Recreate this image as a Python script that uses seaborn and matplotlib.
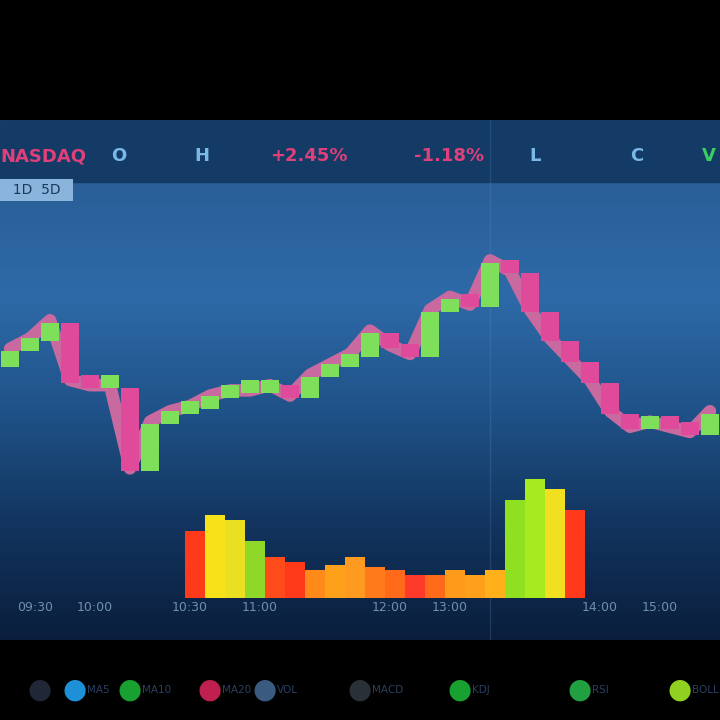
import numpy as np
import pandas as pd
import matplotlib
matplotlib.use("Agg")
import matplotlib.pyplot as plt
import seaborn as sns
from matplotlib.colors import LinearSegmentedColormap

# price closes, one per candle
closes = [56, 58, 61.5, 50, 49, 49, 33, 42, 44, 45, 47, 48, 48, 49, 47, 51, 53, 55,
          59.5, 56.7, 55, 63.5, 66, 64.5, 73, 71, 63.5, 58, 54, 50, 44, 41, 42, 41, 40, 44]
opens = [53] + closes[:-1]

# volume bars (candles 9..28)
vol_idx = list(range(9, 29))
volumes = [13, 16, 15, 11, 8, 7, 5.5, 6.4, 8, 6, 5.5, 4.5, 4.5, 5.5, 4.5, 5.5, 19, 23, 21, 17]
vol_colors = ["#ff3a1a", "#f7e21a", "#e8e020", "#8fd82a", "#ff4a1a", "#ff3a1a", "#ff8a1a",
              "#ffa01a", "#ff9a20", "#ff7a1a", "#ff6a1a", "#ff3a2a", "#ff6a1a", "#ff9a1a",
              "#ffa01a", "#ffb01a", "#8ee020", "#a6ea20", "#f0e020", "#ff3a1a"]

tick_pos = [1.25, 4.25, 9, 12.5, 19, 22, 29.5, 32.5]
tick_labels = ["09:30", "10:00", "10:30", "11:00", "12:00", "13:00", "14:00", "15:00"]

header_text = ["NASDAQ", "O", "H", "+2.45%", "-1.18%", "L", "C", "V"]
header_x = [0.0, 0.155, 0.27, 0.375, 0.575, 0.735, 0.875, 0.975]
header_col = ["#e0407a", "#7ab8e8", "#7ab8e8", "#e0407a", "#e0407a", "#7ab8e8", "#7ab8e8", "#3ad060"]

legend_names = ["", "MA5", "MA10", "MA20", "VOL", "MACD", "KDJ", "RSI", "BOLL"]
legend_cols = ["#202838", "#1e90d8", "#18a030", "#c02050", "#3a5a80", "#2a3038",
               "#18a030", "#20a040", "#90d020"]
legend_px = [40, 75, 130, 210, 265, 360, 460, 580, 680]

sns.set_theme(style="dark")
plt.rcParams["font.family"] = ["DejaVu Sans"]

fig = plt.figure(figsize=(7.2, 7.2), dpi=100, facecolor="black")
ax = fig.add_axes([0, 80 / 720, 1, 520 / 720])
ax.set_xlim(-0.5, len(closes) - 0.5)
ax.set_ylim(0, 100)

# gradient background
bg = LinearSegmentedColormap.from_list(
    "bg", ["#0a1e3c", "#12345e", "#1f5288", "#2e6aa8", "#2a5f98"])
grad = np.linspace(0, 1, 256).reshape(-1, 1)
ax.imshow(grad, extent=[-0.5, len(closes) - 0.5, 0, 88], origin="lower",
          aspect="auto", cmap=bg, zorder=0)
ax.axhspan(88, 100, color="#143a66", zorder=0.5)
ax.axvline(24, color="#6a9ad0", alpha=0.2, lw=1, zorder=1)

# price line and candles
df = pd.DataFrame({"i": range(len(closes)), "close": closes})
sns.lineplot(data=df, x="i", y="close", ax=ax, color="#c86aa0", lw=9, zorder=2)
for i, (o, c) in enumerate(zip(opens, closes)):
    col = "#7ee05a" if c >= o else "#e04a9a"
    lo, hi = min(o, c), max(o, c)
    ax.bar(i, max(hi - lo, 2.5), bottom=lo - 0.5, width=0.9, color=col,
           linewidth=0, zorder=3)

# volume
vdf = pd.DataFrame({"i": vol_idx, "v": volumes})
ax.bar(vdf["i"] + 0.25, vdf["v"], bottom=8, width=1.0, color=vol_colors,
       linewidth=0, zorder=3)

# header
for t, x, c in zip(header_text, header_x, header_col):
    ax.text(x, 93, t, transform=ax.get_yaxis_transform(), color=c,
            fontsize=13, fontweight="bold", va="center", ha="left")
ax.text(0.005, 86.5, "  1D  5D  ", transform=ax.get_yaxis_transform(),
        color="#1a3a60", fontsize=10, va="center",
        bbox=dict(facecolor="#8ab4dc", edgecolor="none", pad=3))

ax.set_xticks(tick_pos)
ax.set_xticklabels(tick_labels, color="#6f8fb0", fontsize=9)
ax.tick_params(axis="x", pad=-28, length=0)
ax.set_yticks([])
ax.set_xlabel("")
ax.set_ylabel("")
ax.grid(False)
for s in ax.spines.values():
    s.set_visible(False)

# bottom legend row
for n, c, px in zip(legend_names, legend_cols, legend_px):
    fig.text(px / 720, 30 / 720, "●", color=c, fontsize=20, ha="center", va="center")
    if n:
        fig.text((px + 12) / 720, 30 / 720, n, color="#2a4060", fontsize=7.5,
                 ha="left", va="center")

fig.savefig("out.png", dpi=100, facecolor="black")
